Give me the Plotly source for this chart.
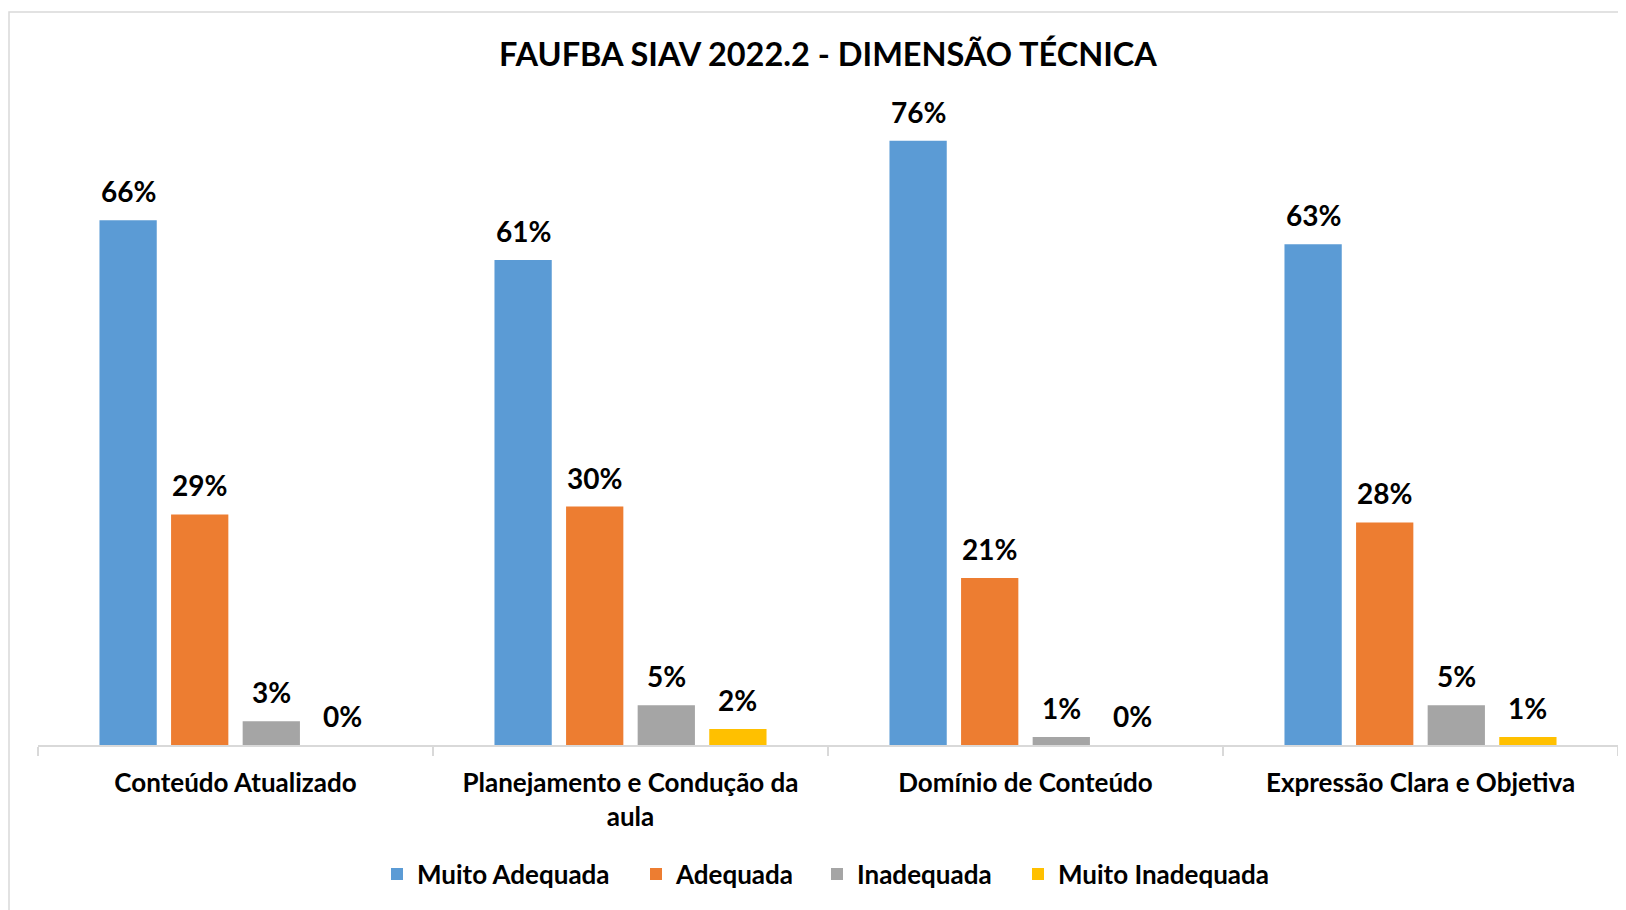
import plotly.graph_objects as go

categories = ["Conteúdo Atualizado", "Planejamento e Condução da<br>aula",
              "Domínio de Conteúdo", "Expressão Clara e Objetiva"]
series_names = ["Muito Adequada", "Adequada", "Inadequada", "Muito Inadequada"]
muito_adequada = [66, 61, 76, 63]
adequada = [29, 30, 21, 28]
inadequada = [3, 5, 1, 5]
muito_inadequada = [0, 2, 0, 1]
colors = ["#5B9BD5", "#ED7D31", "#A5A5A5", "#FFC000"]

series = [muito_adequada, adequada, inadequada, muito_inadequada]

W, H = 1626, 910
ml, mr, mt, mb = 30, 16, 92, 173
plot_w = W - ml - mr
plot_h = H - mt - mb
FONT = "Lato"
legend_text_px = [409, 668, 849, 1050]   # legend entry text start (px)
legend_ids = ["legend", "legend2", "legend3", "legend4"]

fig = go.Figure()
for name, vals, col, lid in zip(series_names, series, colors, legend_ids):
    fig.add_trace(go.Bar(x=categories, y=vals, name=name, legend=lid, showlegend=True,
                         marker=dict(color=col, line=dict(width=0))))

bargap = 0.275
slot = (1 - bargap) * plot_w / len(categories) / len(series)
annotations = []
for i, vals in enumerate(series):
    for c, v in zip(categories, vals):
        annotations.append(dict(
            x=c, y=v, xref="x", yref="y", text=f"{v}%", showarrow=False,
            xanchor="center", yanchor="bottom", xshift=(i - 1.5) * slot, yshift=10,
            font=dict(family=FONT, size=28, color="black", weight="bold")))

legend_common = dict(orientation="h", xanchor="left", yanchor="middle",
                     y=(H - mb - 866) / plot_h, bgcolor="rgba(0,0,0,0)",
                     font=dict(family=FONT, size=26, color="black", weight="bold"))
legends = {}
for lid, tx in zip(legend_ids, legend_text_px):
    legends[lid] = dict(legend_common, x=(tx - 40 - ml) / plot_w)

fig.update_layout(
    width=W, height=H, showlegend=True,
    margin=dict(l=ml, r=mr, t=mt, b=mb, autoexpand=False),
    paper_bgcolor="white", plot_bgcolor="white",
    barmode="group", bargap=bargap, bargroupgap=0.2,
    title=dict(text="FAUFBA SIAV 2022.2 - DIMENSÃO TÉCNICA", x=0.5, xref="paper",
               xanchor="center", y=1 - 47 / H, yanchor="middle",
               font=dict(family=FONT, size=32.5, color="black", weight="bold")),
    font=dict(family=FONT, color="black"),
    xaxis=dict(showline=True, linecolor="#D9D9D9", linewidth=1.5, ticks="outside",
               tickson="boundaries", ticklen=9, tickcolor="#D9D9D9", tickwidth=1.5,
               showgrid=False, ticklabelstandoff=14,
               tickfont=dict(family=FONT, size=26, color="black", weight="bold")),
    yaxis=dict(range=[0, plot_h / 7.95], visible=False, showgrid=False, zeroline=False),
    annotations=annotations,
    shapes=[dict(type="rect", xref="paper", yref="paper",
                 x0=(1 - ml) / plot_w, x1=1.2, y0=-0.5, y1=(H - mb - 4) / plot_h,
                 line=dict(color="#D9D9D9", width=1.5), fillcolor="rgba(0,0,0,0)",
                 layer="below")],
    **legends,
)

fig.write_html("out.html")
